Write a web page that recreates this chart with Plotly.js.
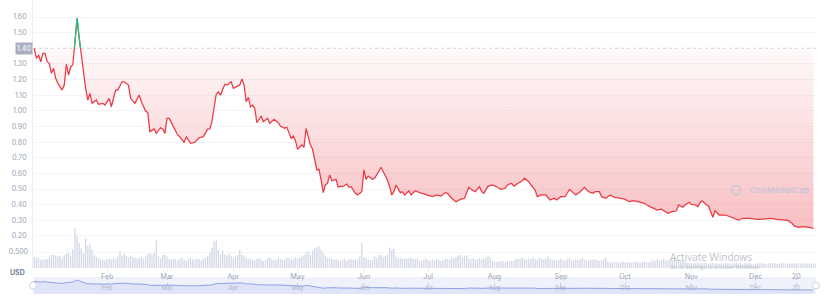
<!DOCTYPE html>
<html><head><meta charset="utf-8">
<script src="https://cdn.plot.ly/plotly-3.0.1.min.js"></script>
<style>html,body{margin:0;padding:0;background:#fff}#chart{width:825px;height:300px}</style>
</head><body><div id="chart"></div>
<script>
// ---- data ----
const dates = ['2018-12-29','2018-12-30','2018-12-31','2019-01-01','2019-01-02','2019-01-03','2019-01-04','2019-01-05','2019-01-06','2019-01-07','2019-01-08','2019-01-09','2019-01-11','2019-01-12','2019-01-13','2019-01-14','2019-01-15','2019-01-16','2019-01-17','2019-01-18','2019-01-19','2019-01-20','2019-01-21','2019-01-22','2019-01-23','2019-01-24','2019-01-25','2019-01-27','2019-01-28','2019-01-30','2019-01-31',
'2019-02-02','2019-02-03','2019-02-05','2019-02-06','2019-02-08','2019-02-09','2019-02-11','2019-02-12','2019-02-14','2019-02-16','2019-02-17','2019-02-19','2019-02-20','2019-02-21','2019-02-23','2019-02-24','2019-02-26','2019-02-27','2019-02-28',
'2019-03-01','2019-03-02','2019-03-04','2019-03-06','2019-03-07','2019-03-09','2019-03-10','2019-03-12','2019-03-14','2019-03-16','2019-03-18','2019-03-20','2019-03-21','2019-03-22','2019-03-24','2019-03-25','2019-03-26','2019-03-28','2019-03-29','2019-03-31',
'2019-04-01','2019-04-03','2019-04-04','2019-04-05','2019-04-06','2019-04-07','2019-04-08','2019-04-09','2019-04-10','2019-04-11','2019-04-12','2019-04-14','2019-04-15','2019-04-17','2019-04-18','2019-04-20','2019-04-22','2019-04-23','2019-04-25','2019-04-26','2019-04-28','2019-04-29','2019-04-30',
'2019-05-01','2019-05-03','2019-05-04','2019-05-05','2019-05-07','2019-05-08','2019-05-10','2019-05-11','2019-05-12','2019-05-13','2019-05-14','2019-05-15','2019-05-16','2019-05-17','2019-05-19','2019-05-20','2019-05-21','2019-05-22','2019-05-24','2019-05-25','2019-05-26','2019-05-28','2019-05-29','2019-05-31',
'2019-06-01','2019-06-02','2019-06-03','2019-06-05','2019-06-06','2019-06-08','2019-06-09','2019-06-10','2019-06-12','2019-06-13','2019-06-14','2019-06-15','2019-06-16','2019-06-18','2019-06-19','2019-06-20','2019-06-22','2019-06-23','2019-06-25','2019-06-27','2019-06-30',
'2019-07-03','2019-07-05','2019-07-07','2019-07-09','2019-07-10','2019-07-12','2019-07-14','2019-07-16','2019-07-18','2019-07-20','2019-07-21','2019-07-23','2019-07-25','2019-07-26','2019-07-27','2019-07-29','2019-07-31',
'2019-08-02','2019-08-04','2019-08-06','2019-08-07','2019-08-09','2019-08-10','2019-08-12','2019-08-14','2019-08-15','2019-08-17','2019-08-18','2019-08-20','2019-08-21','2019-08-23','2019-08-25','2019-08-27','2019-08-29','2019-08-30',
'2019-09-01','2019-09-03','2019-09-05','2019-09-08','2019-09-10','2019-09-12','2019-09-14','2019-09-16','2019-09-17','2019-09-19','2019-09-20','2019-09-22','2019-09-24','2019-09-26','2019-09-29',
'2019-10-01','2019-10-03','2019-10-05','2019-10-07','2019-10-10','2019-10-12','2019-10-14','2019-10-16','2019-10-18','2019-10-20','2019-10-21','2019-10-23','2019-10-25','2019-10-26','2019-10-28','2019-10-29','2019-10-31',
'2019-11-01','2019-11-03','2019-11-04','2019-11-05','2019-11-06','2019-11-08','2019-11-09','2019-11-10','2019-11-11','2019-11-12','2019-11-13','2019-11-14','2019-11-17','2019-11-19','2019-11-21','2019-11-23','2019-11-25','2019-11-28',
'2019-12-02','2019-12-05','2019-12-08','2019-12-11','2019-12-14','2019-12-16','2019-12-18','2019-12-19','2019-12-21','2019-12-23','2019-12-26','2019-12-28'];
const prices = [1.400,1.336,1.357,1.314,1.368,1.368,1.314,1.304,1.240,1.272,1.208,1.176,1.133,1.165,1.298,1.229,1.282,1.293,1.442,1.592,1.464,1.346,1.250,1.144,1.069,1.112,1.048,1.069,1.042,1.048,1.037,
1.080,1.026,1.133,1.133,1.186,1.186,1.165,1.080,1.048,1.101,1.058,0.999,0.990,0.867,0.884,0.856,0.892,0.884,0.856,
0.952,0.952,0.899,0.846,0.835,0.797,0.835,0.792,0.799,0.828,0.835,0.883,0.885,0.931,1.106,1.120,1.100,1.170,1.165,1.186,
1.144,1.159,1.165,1.204,1.165,1.058,1.086,1.026,1.037,1.016,0.924,0.967,0.931,0.952,0.920,0.946,0.924,0.903,0.888,0.895,0.824,0.839,0.809,
0.754,0.782,0.767,0.888,0.782,0.754,0.622,0.626,0.558,0.477,0.526,0.537,0.590,0.553,0.562,0.511,0.519,0.515,0.532,0.511,0.515,0.473,0.462,0.483,
0.622,0.562,0.583,0.562,0.569,0.622,0.639,0.611,0.558,0.515,0.462,0.483,0.526,0.477,0.483,0.462,0.489,0.462,0.489,0.477,0.462,
0.451,0.462,0.455,0.477,0.473,0.441,0.419,0.434,0.441,0.511,0.498,0.483,0.515,0.483,0.473,0.519,0.526,
0.515,0.498,0.505,0.526,0.537,0.519,0.537,0.553,0.569,0.547,0.526,0.494,0.451,0.462,0.462,0.430,0.441,0.430,
0.451,0.451,0.498,0.462,0.483,0.511,0.483,0.473,0.483,0.483,0.451,0.441,0.462,0.447,0.441,
0.434,0.419,0.426,0.419,0.409,0.392,0.377,0.366,0.371,0.355,0.345,0.355,0.361,0.398,0.383,0.398,0.415,
0.402,0.398,0.387,0.413,0.424,0.398,0.392,0.355,0.319,0.361,0.345,0.334,0.334,0.323,0.317,0.302,0.313,0.313,
0.306,0.308,0.313,0.306,0.302,0.299,0.281,0.264,0.255,0.259,0.255,0.249];
const BASE = 1.40;               // opening price, reference line
const volStart = '2018-12-29';   // first daily volume bar
const volumes = [0.34,0.33,0.32,0.25,0.26,0.27,0.28,0.35,0.40,0.43,0.39,0.36,0.37,0.30,0.40,0.45,0.48,0.36,0.58,1.25,
0.99,0.78,0.62,0.45,0.92,0.68,0.76,0.57,0.40,0.35,0.30,0.28,0.25,0.24,0.27,0.29,0.26,0.30,0.28,0.36,
0.52,0.38,0.44,0.37,0.33,0.38,0.34,0.31,0.29,0.33,0.35,0.30,0.36,0.44,0.47,0.42,0.47,0.86,0.36,0.30,
0.41,0.44,0.36,0.28,0.25,0.30,0.27,0.24,0.29,0.31,0.26,0.23,0.28,0.32,0.27,0.25,0.30,0.28,0.24,0.29,
0.31,0.38,0.48,0.63,0.83,0.89,0.57,0.42,0.55,0.42,0.38,0.45,0.36,0.30,0.35,0.40,0.57,0.42,0.38,0.33,
0.28,0.30,0.26,0.24,0.29,0.31,0.27,0.22,0.25,0.30,0.33,0.28,0.24,0.26,0.31,0.29,0.25,0.27,0.32,0.30,
0.26,0.28,0.33,0.29,0.31,0.36,0.40,0.47,0.52,0.40,0.55,0.62,0.65,0.68,0.57,0.46,0.38,0.32,0.30,0.27,
0.25,0.28,0.24,0.22,0.26,0.29,0.23,0.27,0.30,0.25,0.28,0.26,0.36,0.78,0.34,0.30,0.26,0.24,0.25,0.36,
0.30,0.40,0.42,0.35,0.38,0.42,0.63,0.57,0.60,0.36,0.30,0.32,0.29,0.31,0.28,0.30,0.33,0.29,0.27,0.30,
0.24,0.22,0.26,0.30,0.25,0.23,0.27,0.24,0.29,0.26,0.22,0.25,0.30,0.28,0.27,0.32,0.30,0.34,0.38,0.40,
0.33,0.38,0.40,0.29,0.27,0.30,0.26,0.28,0.31,0.27,0.29,0.33,0.39,0.33,0.22,0.20,0.19,0.21,0.20,0.22,
0.19,0.21,0.20,0.23,0.22,0.28,0.30,0.27,0.33,0.29,0.26,0.30,0.28,0.33,0.27,0.25,0.31,0.29,0.27,0.30,
0.36,0.28,0.25,0.27,0.24,0.26,0.29,0.25,0.23,0.27,0.30,0.26,0.24,0.28,0.25,0.27,0.31,0.26,0.24,0.23,
0.26,0.25,0.28,0.24,0.22,0.25,0.27,0.33,0.20,0.18,0.17,0.19,0.18,0.16,0.18,0.20,0.17,0.19,0.18,0.16,
0.18,0.20,0.19,0.17,0.18,0.21,0.19,0.18,0.20,0.25,0.23,0.27,0.24,0.26,0.29,0.25,0.22,0.27,0.24,0.26,
0.23,0.25,0.22,0.24,0.21,0.17,0.15,0.16,0.14,0.15,0.17,0.15,0.14,0.16,0.15,0.13,0.15,0.16,0.14,0.15,
0.13,0.15,0.14,0.16,0.15,0.14,0.13,0.15,0.16,0.14,0.15,0.13,0.14,0.16,0.15,0.14,0.13,0.15,0.14,0.16,
0.15,0.14,0.13,0.15,0.14,0.16,0.15,0.13,0.14,0.15,0.16,0.14,0.13,0.15,0.14,0.16,0.15,0.14,0.13,0.15,
0.14,0.15,0.13,0.14,0.15,0.14];
const priceTicks = [0.2,0.3,0.4,0.5,0.6,0.7,0.8,0.9,1.0,1.1,1.2,1.3,1.5,1.6];
const priceTickText = ['0.20','0.30','0.40','0.50','0.60','0.70','0.80','0.90','1.00','1.10','1.20','1.30','1.50','1.60'];
const volTicks = [0.5];
const volTickText = ['0.500'];
const monthTicks = ['2019-02-01','2019-03-01','2019-04-01','2019-05-01','2019-06-01','2019-07-01','2019-08-01','2019-09-01','2019-10-01','2019-11-01','2019-12-01','2019-12-20'];
const monthLabels = ['Feb','Mar','Apr','May','Jun','Jul','Aug','Sep','Oct','Nov','Dec','20'];
const xRange = ['2018-12-28 09:36','2019-12-29 04:48'];

// ---- helpers ----
const DAY = 864e5;
const t0 = Date.parse(volStart + 'T00:00:00Z');
const fmt = ms => new Date(ms).toISOString().slice(0,19).replace('T',' ');
const volDates = volumes.map((_, i) => fmt(t0 + i * DAY));
const ts = d => Date.parse(d + 'T00:00:00Z');
// green portion: where price is above the opening level
const gx = [], gy = [];
for (let i = 0; i < prices.length; i++) {
  const above = prices[i] > BASE;
  if (i > 0) {
    const prevAbove = prices[i-1] > BASE;
    if (prevAbove !== above) {
      const f = (BASE - prices[i-1]) / (prices[i] - prices[i-1]);
      gx.push(fmt(ts(dates[i-1]) + f * (ts(dates[i]) - ts(dates[i-1]))));
      gy.push(BASE);
      if (!above) { gx.push(null); gy.push(null); }
    }
  }
  if (above) { gx.push(dates[i]); gy.push(prices[i]); }
}
const NAV_FLOOR = -0.29;
const tickFont = {family: 'Inter, sans-serif', size: 7, color: '#9aa1b5'};

const traces = [
  {type:'bar', x: volDates, y: volumes, yaxis:'y3', xaxis:'x',
   marker:{color:'#d5d9e7', line:{width:0}}, width: DAY*0.62, hoverinfo:'skip'},
  {type:'scatter', mode:'lines', x: dates, y: dates.map(() => BASE),
   line:{width:0, color:'rgba(0,0,0,0)'}, hoverinfo:'skip'},
  {type:'scatter', mode:'lines', x: dates, y: prices, fill:'tonexty',
   fillgradient:{type:'vertical', start:0.25, stop:1.40,
     colorscale:[[0,'rgba(234,57,67,0.32)'],[1,'rgba(234,57,67,0.03)']]},
   line:{color:'#ea3943', width:1.25}, hoverinfo:'skip'},
  {type:'scatter', mode:'lines', x: gx, y: gy, connectgaps:false,
   line:{color:'#16c784', width:1.25}, hoverinfo:'skip'},
  {type:'scatter', mode:'lines', x: dates, y: dates.map(() => NAV_FLOOR), xaxis:'x2', yaxis:'y2',
   line:{width:0, color:'rgba(0,0,0,0)'}, hoverinfo:'skip'},
  {type:'scatter', mode:'lines', x: dates, y: prices, xaxis:'x2', yaxis:'y2', fill:'tonexty',
   fillcolor:'#dfe4f8', line:{color:'#8fa1e6', width:1}, hoverinfo:'skip'}
];

const layout = {
  width: 825, height: 300,
  margin: {l:33, r:9, t:0, b:4},
  paper_bgcolor:'#ffffff', plot_bgcolor:'rgba(0,0,0,0)',
  showlegend:false, bargap:0.35,
  font:{family:'Inter, sans-serif'},
  xaxis:{type:'date', range:xRange, domain:[0,1], anchor:'y',
    tickmode:'array', tickvals: monthTicks, ticktext: monthLabels, tickfont: tickFont,
    showgrid:false, zeroline:false, showline:false, ticks:'outside', ticklen:2, tickcolor:'#e3e6ee'},
  yaxis:{domain:[0.0946,1], range:[-0.0049,1.7087], tickmode:'array', tickvals: priceTicks, ticktext: priceTickText,
    tickfont: tickFont, gridcolor:'#f4f5f8', gridwidth:1, zeroline:false, showline:true, linecolor:'#eceef3',
    ticks:'', ticklabelstandoff:4},
  yaxis3:{overlaying:'y', side:'left', range:[0,8.375], tickmode:'array', tickvals: volTicks, ticktext: volTickText,
    tickfont: tickFont, showgrid:true, gridcolor:'#f4f5f8', zeroline:false, showline:false, ticks:'', ticklabelstandoff:4},
  xaxis2:{type:'date', range:xRange, domain:[0,1], anchor:'y2',
    tickmode:'array', tickvals: monthTicks, ticktext: monthLabels,
    tickfont:{family:'Inter, sans-serif', size:6, color:'#aeb4c8'}, ticklabelposition:'inside',
    showgrid:true, griddash:'dot', gridcolor:'#c3c9de', zeroline:false, showline:false, ticks:''},
  yaxis2:{domain:[0.0068,0.0642], range:[NAV_FLOOR,2.0], visible:false, fixedrange:true},
  shapes:[
    {type:'rect', xref:'x2 domain', yref:'y2 domain', x0:0, x1:1, y0:0, y1:1,
     fillcolor:'#eff1fb', line:{width:0}, layer:'below'},
    {type:'line', xref:'paper', yref:'y', x0:0, x1:1, y0:BASE, y1:BASE,
     line:{color:'#d2d4dc', width:1, dash:'dot'}, layer:'below'},
    {type:'circle', xref:'paper', yref:'y2 domain', xsizemode:'pixel', ysizemode:'pixel',
     xanchor:0, yanchor:0.5, x0:-3.5, x1:3.5, y0:-3.5, y1:3.5, fillcolor:'#ffffff', line:{color:'#cfd3df', width:1}},
    {type:'circle', xref:'paper', yref:'y2 domain', xsizemode:'pixel', ysizemode:'pixel',
     xanchor:1, yanchor:0.5, x0:-3.5, x1:3.5, y0:-3.5, y1:3.5, fillcolor:'#ffffff', line:{color:'#cfd3df', width:1}},
    {type:'circle', xref:'paper', yref:'paper', xsizemode:'pixel', ysizemode:'pixel',
     xanchor:0.898, yanchor:0.358, x0:-4.5, x1:4.5, y0:-4.5, y1:4.5, line:{color:'#bcc4dc', width:1.2}}
  ],
  annotations:[
    {xref:'paper', yref:'y', x:0, y:BASE, xanchor:'right', yanchor:'middle', showarrow:false,
     text:'1.40', bgcolor:'#a9afc1', borderpad:1, font:{family:'Inter, sans-serif', size:7, color:'#ffffff'}},
    {xref:'paper', yref:'paper', x:0, y:0.081, xanchor:'right', xshift:-6, yanchor:'middle', showarrow:false,
     text:'<b>USD</b>', font:{family:'Inter, sans-serif', size:7, color:'#7a8296'}},
    {xref:'paper', yref:'paper', x:0.913, y:0.358, xanchor:'left', yanchor:'middle', showarrow:false,
     text:'CoinMarketCap', font:{family:'Inter, sans-serif', size:8, color:'#bcc4dc'}},
    {xref:'paper', yref:'paper', x:0.811, y:0.132, xanchor:'left', yanchor:'middle', showarrow:false,
     text:'Activate Windows', font:{family:'Open Sans, sans-serif', size:10, color:'rgba(165,170,180,0.75)'}},
    {xref:'paper', yref:'paper', x:0.811, y:0.098, xanchor:'left', yanchor:'middle', showarrow:false,
     text:'Go to Settings to activate Windows.', font:{family:'Open Sans, sans-serif', size:5.5, color:'rgba(165,170,180,0.75)'}}
  ]
};

Plotly.newPlot('chart', traces, layout, {staticPlot:true, displayModeBar:false});
</script>
</body></html>
